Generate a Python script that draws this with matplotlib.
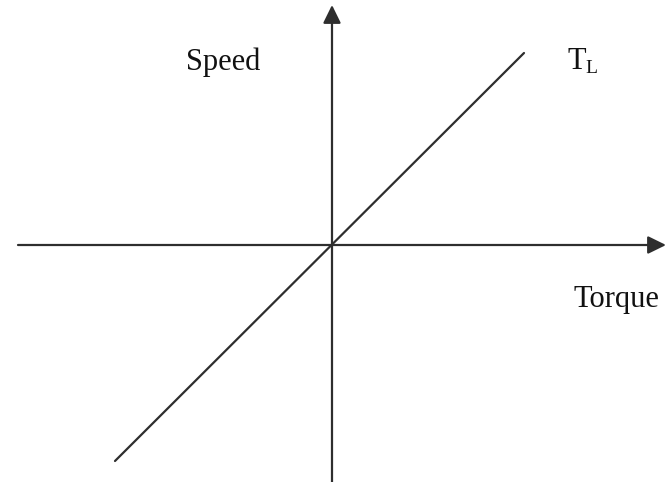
import matplotlib
matplotlib.use("Agg")
import matplotlib.pyplot as plt

# Data (offsets from the origin, in chart units)
torque = [-217, 192]
speed = [-216, 192]
x_axis = [-314, 334]
y_axis = [-237, 240]
labels = {"speed": "Speed", "torque": "Torque", "load": "T", "load_sub": "L"}

fig = plt.figure(figsize=(6.69, 4.82), dpi=100)
ax = fig.add_axes([0, 0, 1, 1])
ax.set_xlim(-332, 669 - 332)
ax.set_ylim(-(482 - 245), 245)
ax.axis("off")

col = "#2e2e2e"
style = "-|>,head_length=0.55,head_width=0.27"
ax.annotate("", xy=(x_axis[1], 0), xytext=(x_axis[0], 0),
            arrowprops=dict(arrowstyle=style, lw=1.6,
                            color=col, mutation_scale=20, shrinkA=0, shrinkB=0))
ax.annotate("", xy=(0, y_axis[1]), xytext=(0, y_axis[0]),
            arrowprops=dict(arrowstyle=style, lw=1.6,
                            color=col, mutation_scale=20, shrinkA=0, shrinkB=0))

ax.plot(torque, speed, color=col, lw=1.6, solid_capstyle="round")

font = "Liberation Serif"
ax.text(-109, 175, labels["speed"], fontsize=22, family=font, ha="center",
        va="baseline", color="#111111")
ax.text(284, -62, labels["torque"], fontsize=22, family=font, ha="center",
        va="baseline", color="#111111")
ax.text(235, 176, labels["load"], fontsize=22, family=font, ha="left",
        va="baseline", color="#111111")
ax.text(253, 172, labels["load_sub"], fontsize=14, family=font, ha="left",
        va="baseline", color="#111111")

fig.savefig("out.png", dpi=100)
